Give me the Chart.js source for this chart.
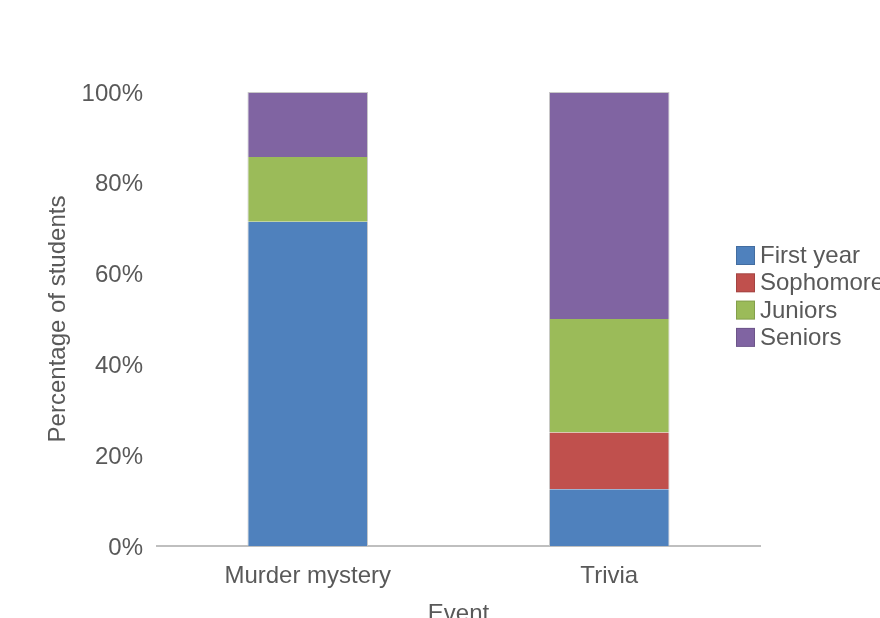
<!DOCTYPE html>
<html>
<head>
<meta charset="utf-8">
<script src="https://cdn.jsdelivr.net/npm/chart.js@4/dist/chart.umd.min.js"></script>
<style>
  html, body { margin: 0; padding: 0; background: #ffffff; overflow: hidden; }
  #wrap { width: 880px; height: 618px; overflow: hidden; position: relative; }
  canvas { display: block; }
</style>
</head>
<body>
<div id="wrap"><canvas id="chart" width="900" height="630"></canvas></div>
<script>
// Share of students at each event, by year group (percent)
const categories = ['Murder mystery', 'Trivia'];
const seriesNames = ['First year', 'Sophomores', 'Juniors', 'Seniors'];
const firstYear  = [71.4, 12.5];
const sophomores = [0, 12.5];
const juniors    = [14.3, 25];
const seniors    = [14.3, 50];
const yTicks = [0, 20, 40, 60, 80, 100];

const colors = ['#4f81bd', '#c0504d', '#9bbb59', '#8064a2'];
const textColor = '#595959';
const FONT = 'Liberation Sans, Arial, sans-serif';
const FSIZE = 24;

const seriesValues = [firstYear, sophomores, juniors, seniors];

const datasets = seriesValues.map((vals, i) => ({
  label: seriesNames[i],
  data: vals,
  backgroundColor: colors[i],
  borderColor: '#c8c8c8',
  borderWidth: { left: 1, right: 1, top: i === seriesValues.length - 1 ? 1 : 0, bottom: 0 },
  borderSkipped: false,
  barPercentage: 0.4,
  categoryPercentage: 1.0
}));

// Legend drawn to the right of the plot, stacked vertically
const sideLegend = {
  id: 'sideLegend',
  afterDraw(chart) {
    const ctx = chart.ctx;
    const x0 = 736, y0 = 246, rowH = 27.3, box = 19;
    ctx.save();
    ctx.font = FSIZE + 'px ' + FONT;
    ctx.textBaseline = 'middle';
    ctx.textAlign = 'left';
    chart.data.datasets.forEach((ds, i) => {
      const y = y0 + i * rowH;
      ctx.fillStyle = ds.backgroundColor;
      ctx.fillRect(x0, y, box, box);
      ctx.strokeStyle = 'rgba(0,0,0,0.15)';
      ctx.lineWidth = 1;
      ctx.strokeRect(x0 + 0.5, y + 0.5, box - 1, box - 1);
      ctx.fillStyle = textColor;
      ctx.fillText(ds.label, x0 + box + 5, y + box / 2 + 1);
    });
    ctx.restore();
  }
};

new Chart(document.getElementById('chart'), {
  type: 'bar',
  data: { labels: categories, datasets },
  options: {
    responsive: false,
    animation: false,
    layout: { padding: { top: 92, right: 140, bottom: 0, left: 0 } },
    plugins: {
      legend: { display: false },
      tooltip: { enabled: false }
    },
    scales: {
      x: {
        stacked: true,
        grid: { display: false, drawTicks: false },
        border: { display: true, color: '#bfbfbf', width: 2 },
        ticks: { color: textColor, font: { family: FONT, size: FSIZE }, padding: 16 },
        title: { display: true, text: 'Event', color: textColor, font: { family: FONT, size: FSIZE }, padding: { top: 0, bottom: 1 } },
        afterFit(scale) { scale.height = 84; }
      },
      y: {
        stacked: true,
        min: 0,
        max: 100,
        afterBuildTicks(scale) { scale.ticks = yTicks.map(v => ({ value: v })); },
        grid: { display: false, drawTicks: false },
        border: { display: false },
        ticks: { color: textColor, font: { family: FONT, size: FSIZE }, padding: 14, labelOffset: 2, callback: v => v + '%' },
        title: { display: true, text: 'Percentage of students', color: textColor, font: { family: FONT, size: FSIZE }, padding: { top: 44, bottom: 0 } },
        afterFit(scale) { scale.width = 157; }
      }
    }
  },
  plugins: [sideLegend]
});
</script>
</body>
</html>
